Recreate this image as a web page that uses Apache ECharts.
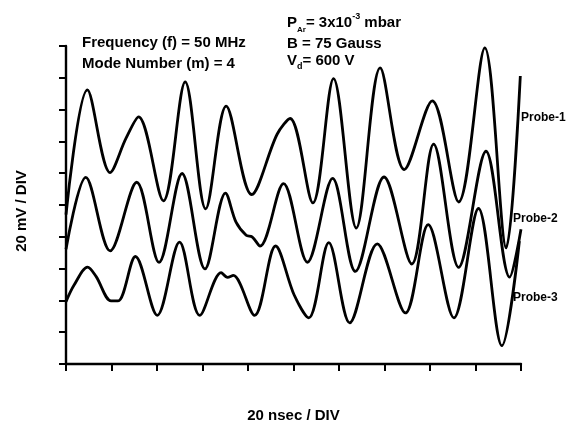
<!DOCTYPE html>
<html>
<head>
<meta charset="utf-8">
<script src="https://cdn.jsdelivr.net/npm/echarts@6/dist/echarts.min.js"></script>
<style>html,body{margin:0;padding:0;background:#fff}#c{width:566px;height:428px}</style>
</head>
<body>
<div id="c"></div>
<script>
// time in nsec (20 nsec / DIV), amplitude in mV (20 mV / DIV)
const xTicks = [0, 20, 40, 60, 80, 100, 120, 140, 160, 180, 200];
const probe1X = [0, 9.4, 19.4, 26.4, 31.9, 42.8, 52.4, 61.4, 70.4, 81.6, 92.8, 98.5, 108.5, 117.6, 127.6, 138.1, 148.7, 161.0, 172.6, 184.1, 193.5, 199.7];
const probe1Y = [93.9, 172.4, 120.4, 142.0, 155.4, 102.6, 177.4, 97.6, 162.2, 106.6, 144.5, 154.4, 101.3, 179.5, 85.5, 186.2, 122.3, 165.5, 101.9, 198.8, 73.0, 181.1];
const probe2X = [0, 8.7, 19.4, 31.1, 40.9, 51.0, 61.1, 70.1, 74.8, 79.2, 81.8, 85.3, 95.6, 106.1, 117.2, 127.2, 139.8, 152.0, 161.6, 172.6, 184.6, 195.0, 200];
const probe2Y = [72.2, 117.4, 71.1, 114.3, 63.9, 119.8, 59.8, 107.5, 89.0, 81.0, 80.0, 74.2, 113.4, 64.0, 116.7, 58.2, 117.6, 62.9, 138.3, 60.8, 133.8, 54.6, 84.7];
const probe3X = [0, 3.5, 9.5, 13.2, 19.8, 22.9, 30.5, 40.1, 49.9, 58.8, 68.2, 71.0, 73.5, 82.9, 92.1, 100.3, 106.7, 115.5, 124.7, 136.8, 149.2, 159.2, 170.5, 181.3, 191.6, 199.3];
const probe3Y = [39.2, 49.5, 60.9, 55.1, 39.7, 39.7, 67.6, 30.6, 76.7, 30.6, 57.5, 54.5, 55.7, 30.6, 74.2, 43.4, 29.0, 76.3, 25.9, 75.6, 32.1, 87.6, 29.0, 97.8, 11.5, 77.3];
const seriesNames = ['Probe-1', 'Probe-2', 'Probe-3'];

function zip(xs, ys) { return xs.map((x, i) => [x, ys[i]]); }

const FONT = '"Liberation Sans", Arial, Helvetica, sans-serif';
const chart = echarts.init(document.getElementById('c'), null, {renderer: 'canvas'});

function lineSeries(name, xs, ys) {
  return {
    name: name, type: 'line', data: zip(xs, ys),
    smooth: 0.33, showSymbol: false, symbol: 'none',
    lineStyle: {color: '#000', width: 2.8},
    clip: false, animation: false
  };
}

const axisCommon = {
  type: 'value', min: 0, max: 200, interval: 20,
  axisLine: {show: true, onZero: false, lineStyle: {color: '#000', width: 2.4}},
  axisTick: {show: true, inside: false, length: 7, lineStyle: {color: '#000', width: 2}},
  axisLabel: {show: false},
  splitLine: {show: false},
  nameLocation: 'middle',
  nameTextStyle: {fontFamily: FONT, fontWeight: 'bold', fontSize: 15, color: '#000'}
};

const main = {fontFamily: FONT, fontWeight: 'bold', fontSize: 15, fill: '#000'};

chart.setOption({
  backgroundColor: '#fff',
  animation: false,
  grid: {left: 66, right: 45, top: 46, bottom: 58},
  xAxis: Object.assign({}, axisCommon, {name: '20 nsec / DIV', nameGap: 44}),
  yAxis: Object.assign({}, axisCommon, {name: '20 mV / DIV', nameGap: 37,
    nameTextStyle: {fontFamily: FONT, fontWeight: 'bold', fontSize: 15, color: '#000', padding: [0, 12, 0, 0]}}),
  series: [
    lineSeries(seriesNames[0], probe1X, probe1Y),
    lineSeries(seriesNames[1], probe2X, probe2Y),
    lineSeries(seriesNames[2], probe3X, probe3Y)
  ],
  graphic: [
    {type: 'text', left: 82, top: 35, style: Object.assign({text: 'Frequency (f) = 50 MHz'}, main)},
    {type: 'text', left: 82, top: 56, style: Object.assign({text: 'Mode Number (m) = 4'}, main)},
    {type: 'text', left: 287, top: 12, style: {
      text: '{m|P}{sub|Ar}{m|= 3x10}{sup|-3}{m| mbar}',
      rich: {
        m: {fontFamily: FONT, fontWeight: 'bold', fontSize: 15, lineHeight: 22, verticalAlign: 'middle'},
        sub: {fontFamily: FONT, fontWeight: 'bold', fontSize: 8, lineHeight: 22, verticalAlign: 'bottom'},
        sup: {fontFamily: FONT, fontWeight: 'bold', fontSize: 9, lineHeight: 22, verticalAlign: 'top'}
      }, fill: '#000'}},
    {type: 'text', left: 287, top: 36, style: Object.assign({text: 'B = 75 Gauss'}, main)},
    {type: 'text', left: 287, top: 53, style: {
      text: '{m|V}{sub|d}{m|= 600 V}',
      rich: {
        m: {fontFamily: FONT, fontWeight: 'bold', fontSize: 15, lineHeight: 22, verticalAlign: 'middle'},
        sub: {fontFamily: FONT, fontWeight: 'bold', fontSize: 9, lineHeight: 22, verticalAlign: 'bottom'}
      }, fill: '#000'}},
    {type: 'text', left: 521, top: 112, style: {text: seriesNames[0], fontFamily: FONT, fontWeight: 'bold', fontSize: 12, fill: '#000'}},
    {type: 'text', left: 513, top: 213, style: {text: seriesNames[1], fontFamily: FONT, fontWeight: 'bold', fontSize: 12, fill: '#000'}},
    {type: 'text', left: 513, top: 292, style: {text: seriesNames[2], fontFamily: FONT, fontWeight: 'bold', fontSize: 12, fill: '#000'}}
  ]
});
</script>
</body>
</html>
